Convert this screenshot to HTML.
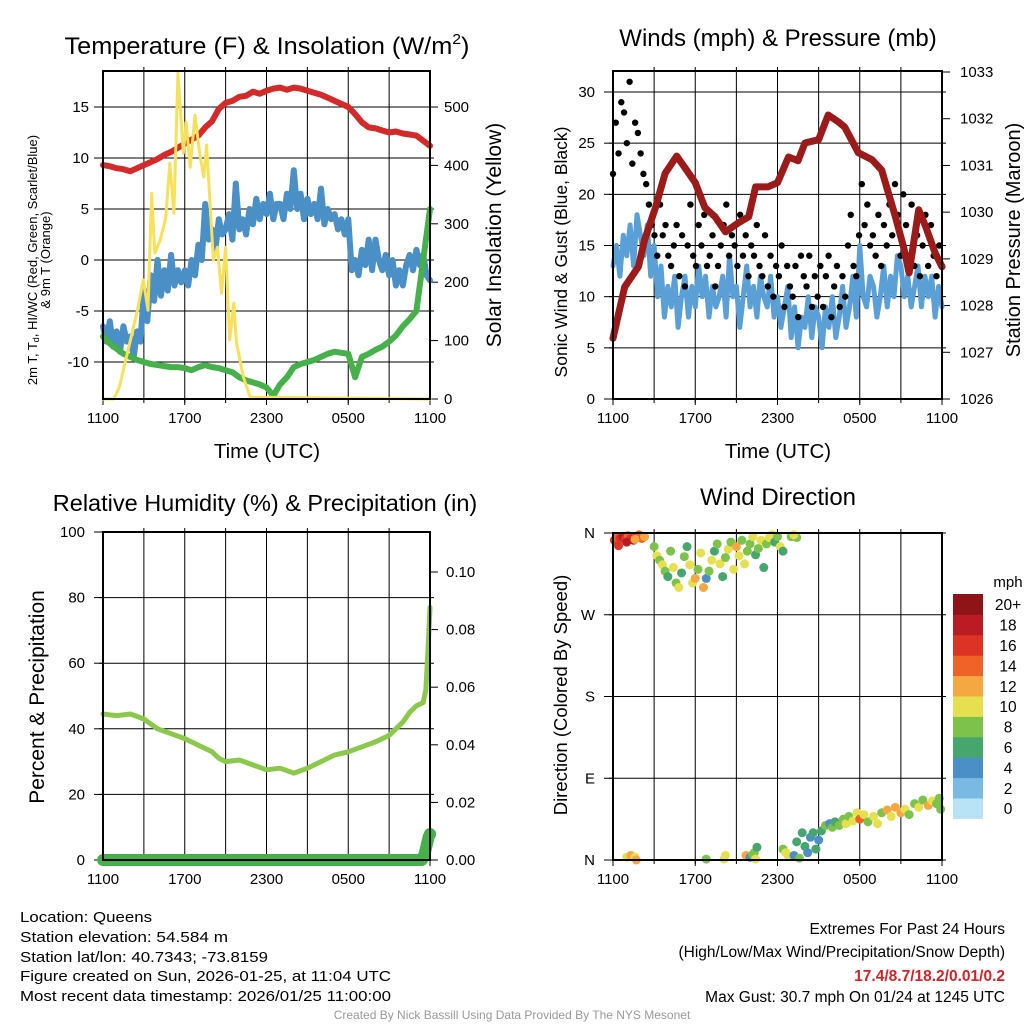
<!DOCTYPE html>
<html><head><meta charset="utf-8"><style>
body{margin:0;background:#fff}
svg{display:block;font-family:"Liberation Sans",sans-serif}
</style></head><body>
<svg id="chart" width="1024" height="1024" viewBox="0 0 1024 1024" xmlns="http://www.w3.org/2000/svg">
<rect width="1024" height="1024" fill="#fff"/>
<g id="g1"></g>
<g id="g2"></g>
<g id="g3"></g>
<g id="g4"></g>

<text x="267" y="54" font-size="24" text-anchor="middle" textLength="405" lengthAdjust="spacingAndGlyphs">Temperature (F) &amp; Insolation (W/m<tspan dy="-10" font-size="15">2</tspan><tspan dy="10">)</tspan></text>
<text x="778" y="46" font-size="24" text-anchor="middle">Winds (mph) &amp; Pressure (mb)</text>
<text x="265" y="511" font-size="23.5" text-anchor="middle">Relative Humidity (%) &amp; Precipitation (in)</text>
<text x="778" y="505" font-size="24" text-anchor="middle">Wind Direction</text>

<text x="267" y="458" font-size="20.5" text-anchor="middle">Time (UTC)</text>
<text x="778" y="458" font-size="20.5" text-anchor="middle">Time (UTC)</text>

<text transform="translate(37,260) rotate(-90)" font-size="13" text-anchor="middle">2m T, T<tspan font-size="9" dy="2">d</tspan><tspan dy="-2">, HI/WC (Red, Green, Scarlet/Blue)</tspan></text>
<text transform="translate(50,260) rotate(-90)" font-size="13" text-anchor="middle">&amp; 9m T (Orange)</text>
<text transform="translate(501,235) rotate(-90)" font-size="21" text-anchor="middle">Solar Insolation (Yellow)</text>
<text transform="translate(567,252) rotate(-90)" font-size="17.5" text-anchor="middle">Sonic Wind &amp; Gust (Blue, Black)</text>
<text transform="translate(1020,240) rotate(-90)" font-size="20" text-anchor="middle">Station Pressure (Maroon)</text>
<text transform="translate(44,697) rotate(-90)" font-size="21" text-anchor="middle">Percent &amp; Precipitation</text>
<text transform="translate(567,695) rotate(-90)" font-size="18.5" text-anchor="middle">Direction (Colored By Speed)</text>

<g font-size="14.5">
<text x="20" y="922" textLength="132" lengthAdjust="spacingAndGlyphs">Location: Queens</text>
<text x="20" y="942" textLength="208" lengthAdjust="spacingAndGlyphs">Station elevation: 54.584 m</text>
<text x="20" y="962" textLength="248" lengthAdjust="spacingAndGlyphs">Station lat/lon: 40.7343; -73.8159</text>
<text x="20" y="981" textLength="371" lengthAdjust="spacingAndGlyphs">Figure created on Sun, 2026-01-25, at 11:04 UTC</text>
<text x="20" y="1001" textLength="371" lengthAdjust="spacingAndGlyphs">Most recent data timestamp: 2026/01/25 11:00:00</text>
</g>
<g font-size="15.5" text-anchor="end">
<text x="1005" y="934">Extremes For Past 24 Hours</text>
<text x="1005" y="957">(High/Low/Max Wind/Precipitation/Snow Depth)</text>
<text x="1005" y="981" fill="#d3232a" font-weight="bold">17.4/8.7/18.2/0.01/0.2</text>
<text x="1005" y="1002">Max Gust: 30.7 mph On 01/24 at 1245 UTC</text>
</g>
<text x="512" y="1019" font-size="12" fill="#999" text-anchor="middle">Created By Nick Bassill Using Data Provided By The NYS Mesonet</text>
</svg>
<script>
// ===== Data =====
const xTickLabels = ["1100","1700","2300","0500","1100"];
// Panel 1
const tempRed = [9.3,9.2,9.0,8.9,8.7,9.0,9.3,9.6,9.9,10.3,10.6,11.0,11.4,11.8,12.2,13.0,13.6,14.8,15.4,15.6,16.0,16.1,16.5,16.3,16.6,16.8,16.9,16.7,16.9,16.8,16.6,16.4,16.2,15.9,15.6,15.3,15.0,14.3,13.5,13.0,12.9,12.7,12.5,12.6,12.4,12.3,12.2,11.7,11.2];
const dewBlue = [-6.5,-8,-6,-8.5, -7,-9,-6.5,-8, -7.5,-9.5,-7,-8, -3,-6,-1.5,-4, 0,-3.5,-1,-3, 0.5,-2.5,-1,-2.2, -1,-2.5,0,-1.5, 1.5,0,5.5,2, 3,1,4,2.5, 3,4.5,2,7.5, 3,4,2.5,5, 3.5,6,4,5.5, 4.5,6.5,4,5.5, 5.5,4,6.5,5, 8.8,5,6.5,4, 6,4.5,5.5,4, 7,3.5,5,4, 4.5,3,4,2.5, 4,-1,0,-1.5, 1,-0.5,2,-1, 2,0,-1,0.5, -1.5,0,-2.5,-1, -2.5,-0.5,0.5,-1, 1,-0.5,0.5,-1.5, -2];
const windChill = [-7.5,-8.2,-8.7,-9.2,-9.5,-9.8,-10.0,-10.2,-10.3,-10.4,-10.5,-10.5,-10.6,-10.8,-10.5,-10.3,-10.5,-10.6,-10.8,-11.0,-11.5,-11.8,-12.0,-12.2,-12.5,-13.3,-12.2,-11.5,-10.5,-10.2,-10.0,-9.8,-9.5,-9.2,-9.0,-9.1,-9.2,-11.5,-9.5,-9.2,-8.8,-8.5,-8.0,-7.4,-6.5,-5.8,-5.0,0.0,5.0];
const solarTime = [0,0.8,1.2,1.6,2.0,2.5,2.96,3.3,3.57,3.8,4.2,4.6,4.9,5.2,5.5,5.9,6.1,6.4,6.75,7.1,7.4,7.6,8.1,8.4,8.7,9.0,9.3,9.6,9.8,10.3,10.8,24];
const solarVals = [0,0,20,60,100,150,204,152,352,250,272,310,404,318,558,421,474,397,486,420,380,435,238,260,181,260,101,164,96,38,3,0];
// Panel 2
const windBlue = [13,15,12,16,14,17,13,18,16,14,17,12,15,10,13,8,11,9,12,7,10,12,8,11,9,13,10,12,8,11,9,10,12,8,14,10,11,7,10,13,9,11,8,12,10,9,12,8,10,7,9,11,6,9,5,8,7,10,6,9,8,5,9,7,10,6,8,11,7,9,12,8,15,10,9,12,11,8,10,13,9,12,10,14,13,10,12,9,11,13,9,12,10,12,8,11,9];
const gustBlack = [22,27,24,29,28,25,31,23,27,26,24,22,21,19,17,16,14,19,16,17,14,13,15,17,12,16,11,15,19,14,13,17,15,18,13,14,16,11,13,15,17,19,14,16,15,13,18,14,16,12,15,14,17,13,12,16,11,14,10,13,12,15,9,13,11,10,13,8,14,12,11,14,9,12,10,13,9,12,14,8,11,13,9,12,10,15,18,13,12,16,21,17,19,15,16,14,18,13,17,15,19,16,21,18,14,20,17,14,19,13,16,12,15,18,13,17,14,12,15,13];
const pressTime = [0,0.85,1.85,2.3,3.1,3.8,4.65,5.25,6.0,6.7,7.45,8.2,9.15,9.9,10.4,11.3,12.0,12.8,13.5,14.0,15.0,15.7,16.45,16.9,17.9,18.9,19.6,20.6,21.2,21.6,22.3,22.8,23.5,24];
const pressVals = [1027.3,1028.4,1028.83,1029.4,1030.1,1030.83,1031.2,1030.95,1030.63,1030.1,1029.9,1029.58,1029.77,1029.9,1030.54,1030.54,1030.63,1031.18,1031.1,1031.48,1031.55,1032.08,1031.93,1031.82,1031.27,1031.12,1030.9,1029.9,1029.25,1028.7,1030.05,1029.7,1029.13,1028.83];
// Panel 3
const rhTime = [0,1,2,3,4,5,6,7,8,8.5,9,10,11,12,13,14,15,16,17,18,19,20,21,21.5,22,22.5,23,23.5,23.7,23.8,23.9,24];
const rhVals = [44.5,44,44.5,43,40,38.5,37,35,33,31,30,30.5,29,27.5,28,26.5,28,30,32,33,34.5,36,38,40,42,45,47,48,52,60,68,77];
const precipTime = [0,23.0,23.4,23.6,23.7,23.8,23.9,24];
const precipVals = [0,0,0,0.002,0.004,0.006,0.008,0.009];
// Panel 4
const dirTime = [0.1,0.3,0.5,0.7,0.9,1.1,1.3,1.5,1.7,1.9,2.1,2.3,0.4,1.0,1.6,3.0,3.2,3.4,3.6,3.8,4.0,4.2,4.4,4.6,4.8,5.0,5.2,5.4,5.6,5.8,6.0,6.2,6.4,6.6,6.8,7.0,7.2,7.4,7.6,7.8,8.0,8.2,8.4,8.6,8.8,9.0,9.2,9.4,9.6,9.8,10.0,10.2,10.4,10.6,10.8,11.0,11.2,11.4,11.6,11.8,12.0,12.2,12.4,13.0,13.4,13.2,1.0,1.3,1.6,1.7,6.8,8.2,8.1,9.7,10.0,10.2,10.3,10.4,10.5,12.4,12.6,12.8,13.2,13.4,13.6,13.8,14.0,14.2,14.4,14.6,14.8,15.0,15.2,15.5,15.8,16.0,16.2,16.5,16.8,17.0,17.2,17.5,17.8,18.0,18.3,18.6,19.0,19.3,19.6,20.0,20.3,20.6,21.0,21.3,21.6,22.0,22.3,22.6,23.0,23.3,23.6,23.9,23.8];
const dirVals = [352,355,354,356,353,357,354,352,356,358,354,356,346,350,353,345,335,330,325,318,312,340,322,305,300,316,334,345,325,305,310,320,338,300,310,318,330,340,348,326,312,333,342,350,320,345,335,352,326,340,348,356,336,343,352,322,348,355,358,350,356,345,340,356,355,358,3,5,3,0,1,5,1,5,3,6,8,1,14,12,8,4,5,20,2,30,15,8,25,30,12,22,32,38,40,36,42,38,45,40,48,43,52,45,50,42,48,40,52,55,48,58,52,56,50,62,58,66,60,65,62,56,68];
const dirSpeed = [16,15,17,18,16,14,17,18,16,15,14,12,17,18,13,8,10,9,10,9,6,8,10,8,10,6,8,6,10,10,12,8,10,12,4,8,10,6,8,10,6,8,10,8,10,12,10,8,10,8,8,10,6,8,10,6,8,10,10,6,8,10,6,8,8,10,10,12,10,12,8,10,10,12,4,8,8,10,6,8,10,10,4,6,8,6,6,4,4,6,6,4,6,8,4,8,6,8,8,10,8,10,10,14,10,8,10,10,8,12,10,12,12,10,8,8,10,8,12,10,8,8,8];
const speedColors = ["#b8e3f7","#7ab9e3","#4a8fc6","#47a56e","#7dc24a","#e6e050","#f5a742","#ef6228","#dc3325","#bb1c24","#8f1418"];
const speedLabels = ["0","2","4","6","8","10","12","14","16","18","20+"];
const dirLabels = ["N","E","S","W","N"];

// ===== Helpers =====
const NS="http://www.w3.org/2000/svg";
function mk(tag,attrs,parent){const e=document.createElementNS(NS,tag);for(const k in attrs)e.setAttribute(k,attrs[k]);parent.appendChild(e);return e;}
function xScale(x0,x1){return h=>x0+h*(x1-x0)/24;}
function lin(d0,d1,r0,r1){return v=>r0+(v-d0)*(r1-r0)/(d1-d0);}
function pathFrom(xs,ys,X,Y){return xs.map((t,i)=>(i?'L':'M')+X(t).toFixed(1)+','+Y(ys[i]).toFixed(1)).join('');}
function idx(arr){return arr.map((_,i)=>i*24/(arr.length-1));}

function frame(g,x0,x1,y0,y1){
  for(let k=1;k<8;k++){const x=x0+k*(x1-x0)/8;
    const l=mk('line',{x1:x,x2:x,y1:y0-4,y2:y1+4,stroke:'#000','stroke-width':1},g);
    
    }
  const X=xScale(x0,x1);
  xTickLabels.forEach((s,i)=>{const x=X(i*6);
    const t=mk('text',{x:x,y:y1+24,'font-size':15,'text-anchor':'middle'},g);t.textContent=s;
    
    
    mk('line',{x1:x,x2:x,y1:y1,y2:y1+6,stroke:'#000'},g);});
}
function hgrid(g,x0,x1,y){const l=mk('line',{x1:x0-4,x2:x1+4,y1:y,y2:y,stroke:'#000','stroke-width':1},g);
  
  }
function border(g,x0,x1,y0,y1){const r=mk('rect',{x:x0,y:y0,width:x1-x0,height:y1-y0,fill:'none',stroke:'#000','stroke-width':2},g);
  
  }
function ylab(g,x,y,s,anchor){const t=mk('text',{x:x,y:y+5,'font-size':15,'text-anchor':anchor},g);t.textContent=s;
  
  }
function line(g,d,color,w,name){const p=mk('path',{d:d,fill:'none',stroke:color,'stroke-width':w,'stroke-linejoin':'round','stroke-linecap':'round'},g);
  
  return p;}

// ===== Panel 1 =====
(function(){const g=document.getElementById('g1');const x0=103,x1=430,y0=71,y1=399;
  const X=xScale(x0,x1);const Y=lin(0,10,260,158);const YS=lin(0,500,399,107);
  frame(g,x0,x1,y0,y1);
  [-10,-5,0,5,10,15].forEach(v=>{hgrid(g,x0,x1,Y(v));ylab(g,x0-14,Y(v),String(v),'end');mk('line',{x1:x0-9,x2:x0,y1:Y(v),y2:Y(v),stroke:'#000'},g);});
  [0,100,200,300,400,500].forEach(v=>{ylab(g,x1+14,YS(v),String(v),'start');mk('line',{x1:x1,x2:x1+8,y1:YS(v),y2:YS(v),stroke:'#000'},g);});
  line(g,pathFrom(idx(tempRed),tempRed,X,Y),'#d42a2a',6,'temperature-line');
  line(g,pathFrom(idx(dewBlue),dewBlue,X,Y),'#4a8fc6',6,'dewpoint-line');
  line(g,pathFrom(idx(windChill),windChill,X,Y),'#46b04a',6,'windchill-line');
  line(g,pathFrom(solarTime,solarVals,X,YS),'#f7e05a',3,'solar-line');
  border(g,x0,x1,y0,y1);
})();

// ===== Panel 2 =====
(function(){const g=document.getElementById('g2');const x0=613,x1=942,y0=71,y1=399;
  const X=xScale(x0,x1);const Y=lin(0,30,399,92);const YP=lin(1026,1033,399,72);
  frame(g,x0,x1,y0,y1);
  [5,10,15,20,25,30].forEach(v=>hgrid(g,x0,x1,Y(v)));
  [0,5,10,15,20,25,30].forEach(v=>{ylab(g,x0-18,Y(v),String(v),'end');mk('line',{x1:x0-9,x2:x0,y1:Y(v),y2:Y(v),stroke:'#000'},g);});
  [1026,1027,1028,1029,1030,1031,1032,1033].forEach(v=>{ylab(g,x1+18,YP(v),String(v),'start');mk('line',{x1:x1,x2:x1+8,y1:YP(v),y2:YP(v),stroke:'#000'},g);});
  line(g,pathFrom(idx(windBlue),windBlue,X,Y),'#5a9fd6',5,'sonic-wind-line');
  const gt=idx(gustBlack);
  gustBlack.forEach((v,i)=>{const c=mk('circle',{cx:X(gt[i]),cy:Y(v),r:3.2,fill:'#000'},g);
    
    });
  line(g,pathFrom(pressTime,pressVals,X,YP),'#9b1a1a',7,'pressure-line');
  border(g,x0,x1,y0,y1);
})();

// ===== Panel 3 =====
(function(){const g=document.getElementById('g3');const x0=103,x1=430,y0=532,y1=860;
  const X=xScale(x0,x1);const Y=lin(0,100,860,532);const YR=lin(0,0.1,860,572);
  frame(g,x0,x1,y0,y1);
  [20,40,60,80].forEach(v=>hgrid(g,x0,x1,Y(v)));
  [0,20,40,60,80,100].forEach(v=>{ylab(g,x0-18,Y(v),String(v),'end');mk('line',{x1:x0-9,x2:x0,y1:Y(v),y2:Y(v),stroke:'#000'},g);});
  [0,0.02,0.04,0.06,0.08,0.10].forEach(v=>{ylab(g,x1+16,YR(v),v.toFixed(2),'start');mk('line',{x1:x1,x2:x1+8,y1:YR(v),y2:YR(v),stroke:'#000'},g);});
  line(g,pathFrom(rhTime,rhVals,X,Y),'#8cc84b',5,'humidity-line');
  line(g,pathFrom(precipTime,precipVals,X,YR),'#46b04a',12,'precipitation-line');
  const c=mk('circle',{cx:X(24),cy:YR(precipVals[precipVals.length-1]),r:6,fill:'#46b04a'},g);
  
  
  border(g,x0,x1,y0,y1);
})();

// ===== Panel 4 =====
(function(){const g=document.getElementById('g4');const x0=613,x1=942,y0=533,y1=860;
  const X=xScale(x0,x1);const Y=lin(0,360,860,533);
  frame(g,x0,x1,y0,y1);
  dirLabels.forEach((s,i)=>{const y=Y(i*90);hgrid(g,x0,x1,y);ylab(g,x0-18,y,s,'end');mk('line',{x1:x0-9,x2:x0,y1:y,y2:y,stroke:'#000'},g);});
  dirVals.forEach((v,i)=>{const k=Math.min(10,Math.floor(dirSpeed[i]/2));
    const c=mk('circle',{cx:X(dirTime[i]),cy:Y(v),r:4.5,fill:speedColors[k]},g);
    
    });
  border(g,x0,x1,y0,y1);
  const cb=mk('g',{},g);
  
  
  const top=594,bh=20.4;
  speedColors.forEach((col,i)=>{const y=top+(10-i)*bh;
    const r=mk('rect',{x:953,y:y,width:30,height:bh+0.5,fill:col},cb);
    
    
    const t=mk('text',{x:1008,y:y+bh/2+6,'font-size':15.5,'text-anchor':'middle'},cb);t.textContent=speedLabels[i];
    
    });
  const u=mk('text',{x:1008,y:587,'font-size':15,'text-anchor':'middle'},cb);u.textContent='mph';
  
  
})();
</script>
</body></html>
